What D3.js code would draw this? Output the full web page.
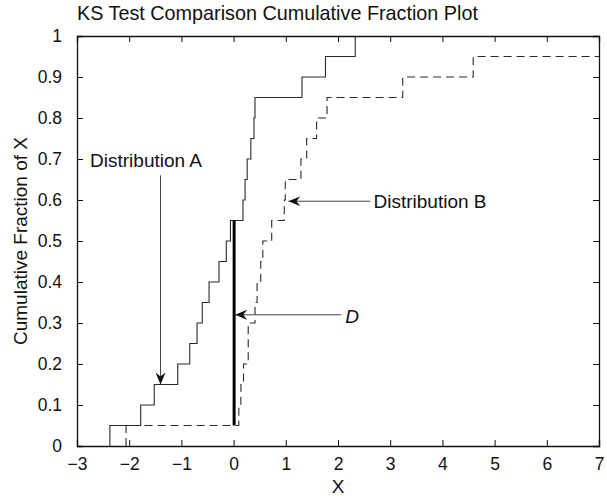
<!DOCTYPE html>
<html>
<head>
<meta charset="utf-8">
<script src="https://cdn.jsdelivr.net/npm/d3@7"></script>
<style>
  body { margin: 0; background: #fff; }
  svg text { font-family: 'Liberation Sans', Arial, Helvetica, sans-serif; fill: #111; }
</style>
</head>
<body>
<div id="graf"></div>
<script>
// valores (muestras ordenadas)
const distA = [-2.37, -1.78, -1.52, -1.07, -0.84, -0.70, -0.60, -0.47, -0.28, -0.14,
  -0.06, 0.18, 0.22, 0.26, 0.33, 0.39, 0.41, 1.31, 1.76, 2.33]
const distB = [-2.06, 0.10, 0.14, 0.19, 0.28, 0.28, 0.41, 0.45, 0.52, 0.56,
  0.73, 0.97, 0.99, 1.29, 1.40, 1.59, 1.79, 3.24, 4.59, 7.5]
const xTicks = [-3, -2, -1, 0, 1, 2, 3, 4, 5, 6, 7]
const yTicks = [0, 0.1, 0.2, 0.3, 0.4, 0.5, 0.6, 0.7, 0.8, 0.9, 1]
// linea D (estadistico KS)
const dLine = { x: 0.01, y0: 0.05, y1: 0.55 }
// anotaciones: texto y flecha en coordenadas de datos
const notas = [
  { texto: 'Distribution A', tx: -2.75, ty: 0.68, x1: -1.40, y1: 0.66, x2: -1.40, y2: 0.15, italic: false },
  { texto: 'Distribution B', tx: 2.68, ty: 0.58, x1: 2.62, y1: 0.597, x2: 1.05, y2: 0.597, italic: false },
  { texto: 'D', tx: 2.14, ty: 0.30, x1: 2.06, y1: 0.32, x2: 0.03, y2: 0.32, italic: true },
]

const anchoTotal = 607
const altoTotal = 500
const margin = { top: 36, bottom: 54, left: 77, right: 8 }
const ancho = anchoTotal - margin.left - margin.right
const alto = altoTotal - margin.top - margin.bottom

const svg = d3.select('#graf')
  .append('svg')
  .attr('width', anchoTotal)
  .attr('height', altoTotal)

const g = svg.append('g')
  .attr('transform', `translate(${margin.left}, ${margin.top})`)

const x = d3.scaleLinear().domain([-3, 7]).range([0, ancho])
const y = d3.scaleLinear().domain([0, 1]).range([alto, 0])

svg.append('defs').append('clipPath').attr('id', 'clip')
  .append('rect').attr('width', ancho).attr('height', alto)

svg.select('defs').append('marker')
  .attr('id', 'flecha')
  .attr('viewBox', '-12 -6 14 12')
  .attr('refX', 0).attr('refY', 0)
  .attr('markerWidth', 14).attr('markerHeight', 12)
  .attr('markerUnits', 'userSpaceOnUse')
  .attr('orient', 'auto')
  .append('path')
  .attr('d', 'M0,0 L-12,-5 L-8,0 L-12,5 Z')
  .attr('fill', '#111')

// escalones de la funcion acumulada
function escalones(vals) {
  const n = vals.length
  const pts = []
  vals.forEach((v, i) => {
    pts.push([v, i / n])
    pts.push([v, (i + 1) / n])
  })
  return pts
}

const linea = d3.line().x(d => x(d[0])).y(d => y(d[1]))

const plot = g.append('g').attr('clip-path', 'url(#clip)')

plot.append('path')
  .attr('d', linea(escalones(distB)))
  .attr('fill', 'none')
  .attr('stroke', '#2a2a2a')
  .attr('stroke-width', 1.1)
  .attr('stroke-dasharray', '8,5')

plot.append('path')
  .attr('d', linea(escalones(distA)))
  .attr('fill', 'none')
  .attr('stroke', '#2a2a2a')
  .attr('stroke-width', 1.1)

plot.append('line')
  .attr('x1', x(dLine.x)).attr('x2', x(dLine.x))
  .attr('y1', y(dLine.y0)).attr('y2', y(dLine.y1))
  .attr('stroke', '#000')
  .attr('stroke-width', 3)

// ejes con marcas hacia dentro en los cuatro lados
const fs = '17.5px'
const ejeX = g.append('g').attr('transform', `translate(0, ${alto})`)
  .call(d3.axisBottom(x).tickValues(xTicks).tickSize(-6).tickPadding(12))
ejeX.selectAll('text').style('font-size', fs)

const ejeY = g.append('g')
  .call(d3.axisLeft(y).tickValues(yTicks).tickSize(-6).tickPadding(15).tickFormat(d3.format('~g')))
ejeY.selectAll('text').style('font-size', fs)

g.append('g')
  .call(d3.axisTop(x).tickValues(xTicks).tickSize(-6).tickFormat(''))
g.append('g').attr('transform', `translate(${ancho}, 0)`)
  .call(d3.axisRight(y).tickValues(yTicks).tickSize(-6).tickFormat(''))

g.selectAll('.domain').attr('stroke', '#111').attr('stroke-width', 1.3)
g.selectAll('.tick line').attr('stroke', '#111')

// anotaciones
notas.forEach(n => {
  g.append('line')
    .attr('x1', x(n.x1)).attr('y1', y(n.y1))
    .attr('x2', x(n.x2)).attr('y2', y(n.y2))
    .attr('stroke', '#444')
    .attr('stroke-width', 1)
    .attr('marker-end', 'url(#flecha)')
  g.append('text')
    .attr('x', x(n.tx)).attr('y', y(n.ty))
    .style('font-size', '19px')
    .style('font-style', n.italic ? 'italic' : 'normal')
    .text(n.texto)
})

// titulo y etiquetas
svg.append('text')
  .attr('x', margin.left).attr('y', 20)
  .style('font-size', '19.8px')
  .text('KS Test Comparison Cumulative Fraction Plot')

svg.append('text')
  .attr('x', margin.left + ancho / 2).attr('y', 493)
  .attr('text-anchor', 'middle')
  .style('font-size', '19px')
  .text('X')

svg.append('text')
  .attr('transform', `translate(27, ${margin.top + alto / 2}) rotate(-90)`)
  .attr('text-anchor', 'middle')
  .style('font-size', '19px')
  .text('Cumulative Fraction of X')
</script>
</body>
</html>
